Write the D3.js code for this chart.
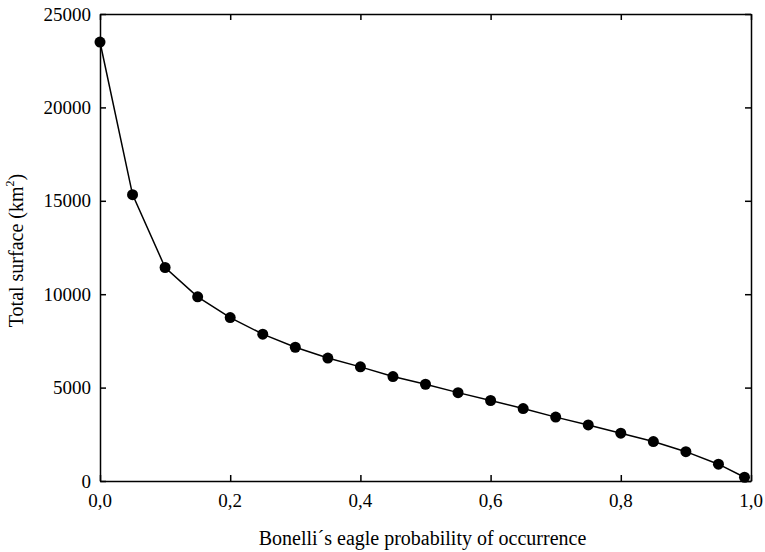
<!DOCTYPE html>
<html>
<head>
<meta charset="utf-8">
<script src="https://cdn.jsdelivr.net/npm/d3@7"></script>
<style>
  body { margin: 0; background: #fff; }
</style>
</head>
<body>
<div class="chart"></div>
<script>
var probability = [0.0, 0.05, 0.1, 0.15, 0.2, 0.25, 0.3, 0.35, 0.4, 0.45, 0.5,
    0.55, 0.6, 0.65, 0.7, 0.75, 0.8, 0.85, 0.9, 0.95, 0.99];
var surface = [23500, 15330, 11430, 9860, 8750, 7860, 7160, 6580, 6110, 5590, 5180,
    4730, 4310, 3880, 3420, 3000, 2560, 2110, 1570, 900, 200];
var xTicks = [0, 0.2, 0.4, 0.6, 0.8, 1.0];
var yTicks = [0, 5000, 10000, 15000, 20000, 25000];

var width = 765, height = 552;
var margin = {top: 14, right: 14, bottom: 71, left: 100};

var svg = d3.select(".chart")
    .append("svg")
    .attr("width", width)
    .attr("height", height)
    .attr("font-family", "'Liberation Serif', 'Times New Roman', Times, serif");

var x = d3.scaleLinear().domain([0, 1]).range([margin.left, width - margin.right]);
var y = d3.scaleLinear().domain([0, 25000]).range([height - margin.bottom, margin.top]);

var fmtX = function (d) { return d3.format(".1f")(d).replace(".", ","); };

// axes, ticks pointing inward on all four sides
svg.append("g")
    .attr("transform", "translate(0," + y(0) + ")")
    .call(d3.axisTop(x).tickValues(xTicks).tickSize(6).tickSizeOuter(0).tickFormat(""))
svg.append("g")
    .attr("transform", "translate(0," + y(25000) + ")")
    .call(d3.axisBottom(x).tickValues(xTicks).tickSize(6).tickSizeOuter(0).tickFormat(""))
svg.append("g")
    .attr("transform", "translate(" + x(0) + ",0)")
    .call(d3.axisRight(y).tickValues(yTicks).tickSize(6).tickSizeOuter(0).tickFormat(""))
svg.append("g")
    .attr("transform", "translate(" + x(1) + ",0)")
    .call(d3.axisLeft(y).tickValues(yTicks).tickSize(6).tickSizeOuter(0).tickFormat(""))
svg.selectAll(".domain, .tick line").attr("stroke", "#000").attr("stroke-width", 1.5);

// tick labels
svg.append("g")
    .selectAll("text")
    .data(xTicks)
    .enter()
    .append("text")
    .attr("x", function (d) { return x(d); })
    .attr("y", y(0) + 26)
    .attr("text-anchor", "middle")
    .attr("font-size", 19)
    .text(fmtX);

svg.append("g")
    .selectAll("text")
    .data(yTicks)
    .enter()
    .append("text")
    .attr("x", x(0) - 9)
    .attr("y", function (d) { return y(d); })
    .attr("dy", "0.35em")
    .attr("text-anchor", "end")
    .attr("font-size", 19)
    .text(function (d) { return d; });

// axis titles
svg.append("text")
    .attr("x", (x(0) + x(1)) / 2 - 3)
    .attr("y", 545)
    .attr("text-anchor", "middle")
    .attr("font-size", 20)
    .text("Bonelli\u00b4s eagle probability of occurrence");

var yl = svg.append("text")
    .attr("transform", "translate(23," + (y(12500) + 3) + ") rotate(-90)")
    .attr("text-anchor", "middle")
    .attr("font-size", 20);
yl.append("tspan").text("Total surface (km");
yl.append("tspan").attr("font-size", 12).attr("dy", -9).text("2");
yl.append("tspan").attr("dy", 9).text(")");

// line and markers
var line = d3.line()
    .x(function (d, i) { return x(probability[i]); })
    .y(function (d) { return y(d); });

svg.append("path")
    .datum(surface)
    .attr("d", line)
    .attr("fill", "none")
    .attr("stroke", "#000")
    .attr("stroke-width", 1.5);

svg.append("g")
    .selectAll("circle")
    .data(surface)
    .enter()
    .append("circle")
    .attr("cx", function (d, i) { return x(probability[i]); })
    .attr("cy", function (d) { return y(d); })
    .attr("r", 5.5)
    .attr("fill", "#000");
</script>
</body>
</html>
